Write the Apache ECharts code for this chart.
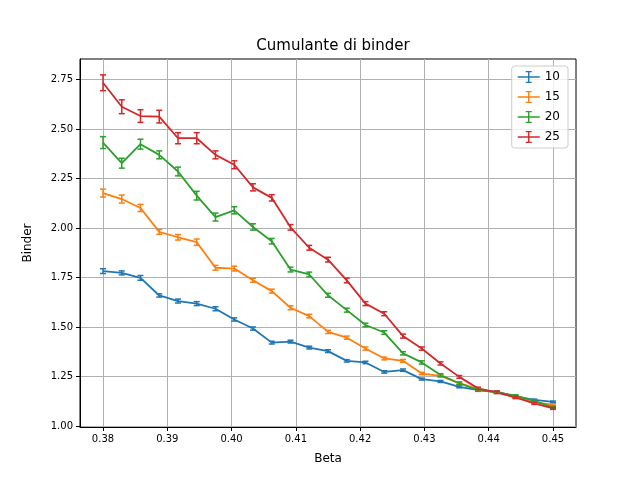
<!DOCTYPE html>
<html>
<head>
<meta charset="utf-8">
<script src="https://cdn.jsdelivr.net/npm/echarts@6/dist/echarts.min.js"></script>
<style>body{margin:0;background:#fff}</style>
</head>
<body>
<div id="chart" style="width:640px;height:480px"></div>
<script type="text/javascript">
    var beta = [0.38, 0.38292, 0.38583, 0.38875, 0.39167, 0.39458, 0.3975, 0.40042, 0.40333, 0.40625,
        0.40917, 0.41208, 0.415, 0.41792, 0.42083, 0.42375, 0.42667, 0.42958, 0.4325, 0.43542,
        0.43833, 0.44125, 0.44417, 0.44708, 0.45];
    var sizes = ['10', '15', '20', '25'];
    var colors = ['#1f77b4', '#ff7f0e', '#2ca02c', '#d62728'];
    var b10 = [1.782, 1.773, 1.748, 1.659, 1.631, 1.618, 1.592, 1.538, 1.492, 1.421, 1.426, 1.396, 1.378,
        1.329, 1.321, 1.273, 1.282, 1.237, 1.225, 1.198, 1.181, 1.173, 1.149, 1.132, 1.122];
    var b15 = [2.176, 2.146, 2.101, 1.980, 1.953, 1.928, 1.799, 1.795, 1.736, 1.681, 1.597, 1.555, 1.475,
        1.446, 1.391, 1.341, 1.329, 1.265, 1.253, 1.216, 1.186, 1.170, 1.144, 1.119, 1.108];
    var b20 = [2.431, 2.327, 2.423, 2.369, 2.285, 2.163, 2.055, 2.089, 2.005, 1.933, 1.790, 1.765, 1.660,
        1.585, 1.510, 1.472, 1.367, 1.321, 1.257, 1.216, 1.181, 1.170, 1.153, 1.127, 1.094];
    var b25 = [2.733, 2.612, 2.565, 2.562, 2.453, 2.453, 2.369, 2.319, 2.205, 2.152, 2.003, 1.900, 1.840,
        1.735, 1.618, 1.567, 1.454, 1.391, 1.316, 1.248, 1.190, 1.170, 1.144, 1.114, 1.089];
    var e10 = [0.012, 0.01, 0.012, 0.008, 0.01, 0.01, 0.01, 0.008, 0.008, 0.007, 0.007, 0.007, 0.007,
        0.006, 0.006, 0.006, 0.006, 0.005, 0.005, 0.005, 0.005, 0.005, 0.004, 0.004, 0.004];
    var e15 = [0.02, 0.02, 0.018, 0.012, 0.014, 0.016, 0.012, 0.012, 0.01, 0.01, 0.01, 0.009, 0.008,
        0.008, 0.008, 0.007, 0.007, 0.006, 0.006, 0.006, 0.005, 0.005, 0.005, 0.004, 0.004];
    var e20 = [0.03, 0.025, 0.025, 0.02, 0.022, 0.022, 0.02, 0.018, 0.016, 0.014, 0.012, 0.012, 0.01,
        0.01, 0.009, 0.009, 0.008, 0.008, 0.007, 0.006, 0.006, 0.005, 0.005, 0.005, 0.005];
    var e25 = [0.04, 0.035, 0.032, 0.032, 0.028, 0.028, 0.02, 0.02, 0.018, 0.016, 0.014, 0.012, 0.012,
        0.012, 0.01, 0.01, 0.01, 0.008, 0.008, 0.007, 0.006, 0.006, 0.005, 0.005, 0.005];
    var xTicks = [0.38, 0.39, 0.40, 0.41, 0.42, 0.43, 0.44, 0.45];
    var yTicks = [1.00, 1.25, 1.50, 1.75, 2.00, 2.25, 2.50, 2.75];

    var values = [b10, b15, b20, b25];
    var errors = [e10, e15, e20, e25];

    var series = [];
    sizes.forEach(function (name, k) {
        series.push({
            name: name, type: 'line', symbol: 'none', color: colors[k],
            lineStyle: {width: 1.8, color: colors[k]},
            data: beta.map(function (b, i) { return [b, values[k][i]]; }),
            z: 3
        });
        series.push({
            name: name, type: 'custom', color: colors[k],
            data: beta.map(function (b, i) { return [b, values[k][i] - errors[k][i], values[k][i] + errors[k][i]]; }),
            renderItem: function (params, api) {
                var lo = api.coord([api.value(0), api.value(1)]);
                var hi = api.coord([api.value(0), api.value(2)]);
                var w = 3;
                var st = {stroke: colors[k], lineWidth: 1.5};
                return {type: 'group', children: [
                    {type: 'line', shape: {x1: lo[0], y1: lo[1], x2: hi[0], y2: hi[1]}, style: st},
                    {type: 'line', shape: {x1: lo[0] - w, y1: lo[1], x2: lo[0] + w, y2: lo[1]}, style: st},
                    {type: 'line', shape: {x1: hi[0] - w, y1: hi[1], x2: hi[0] + w, y2: hi[1]}, style: st}
                ]};
            },
            z: 4
        });
    });

    var chart = echarts.init(document.getElementById('chart'));
    chart.setOption({
        animation: false,
        title: {text: 'Cumulante di binder', left: 328, top: 34, textAlign: 'center',
            textStyle: {fontFamily: 'DejaVu Sans', fontSize: 15, fontWeight: 'normal', color: '#000'}},
        legend: {
            data: sizes, orient: 'vertical', right: 72, top: 66, itemGap: 8,
            itemWidth: 22, itemHeight: 12,
            icon: 'path://M0,5.3h22v1.4h-22z M10.3,0h1.4v12h-1.4z M8,0h6v1.2h-6z M8,10.8h6v1.2h-6z',
            textStyle: {fontFamily: 'DejaVu Sans', fontSize: 12, color: '#000'},
            borderColor: '#ccc', borderWidth: 1, borderRadius: 3, padding: [5, 8, 5, 6],
            backgroundColor: 'rgba(255,255,255,0.8)'
        },
        grid: {left: 80, right: 64, top: 59, bottom: 53, show: true, borderColor: '#000', borderWidth: 1,
            backgroundColor: 'transparent'},
        xAxis: {
            type: 'value', min: 0.376422, max: 0.453578,
            name: 'Beta', nameLocation: 'middle', nameGap: 26,
            nameTextStyle: {fontFamily: 'DejaVu Sans', fontSize: 12, color: '#000'},
            axisLine: {onZero: false, lineStyle: {color: '#000'}},
            axisTick: {customValues: xTicks, length: 4, lineStyle: {color: '#000'}},
            axisLabel: {customValues: xTicks, formatter: function (v) { return v.toFixed(2); },
                fontFamily: 'DejaVu Sans', fontSize: 10, color: '#000', margin: 7},
            splitLine: {show: true, lineStyle: {color: '#b0b0b0', width: 1}}
        },
        yAxis: {
            type: 'value', min: 0.995, max: 2.853,
            name: 'Binder', nameLocation: 'middle', nameGap: 46,
            nameTextStyle: {fontFamily: 'DejaVu Sans', fontSize: 12, color: '#000'},
            axisLine: {show: true, lineStyle: {color: '#000'}},
            axisTick: {show: true, customValues: yTicks, length: 4, lineStyle: {color: '#000'}},
            axisLabel: {customValues: yTicks, formatter: function (v) { return v.toFixed(2); },
                fontFamily: 'DejaVu Sans', fontSize: 10, color: '#000', margin: 7},
            splitLine: {show: true, lineStyle: {color: '#b0b0b0', width: 1}}
        },
        series: series
    });
</script>
</body>
</html>
